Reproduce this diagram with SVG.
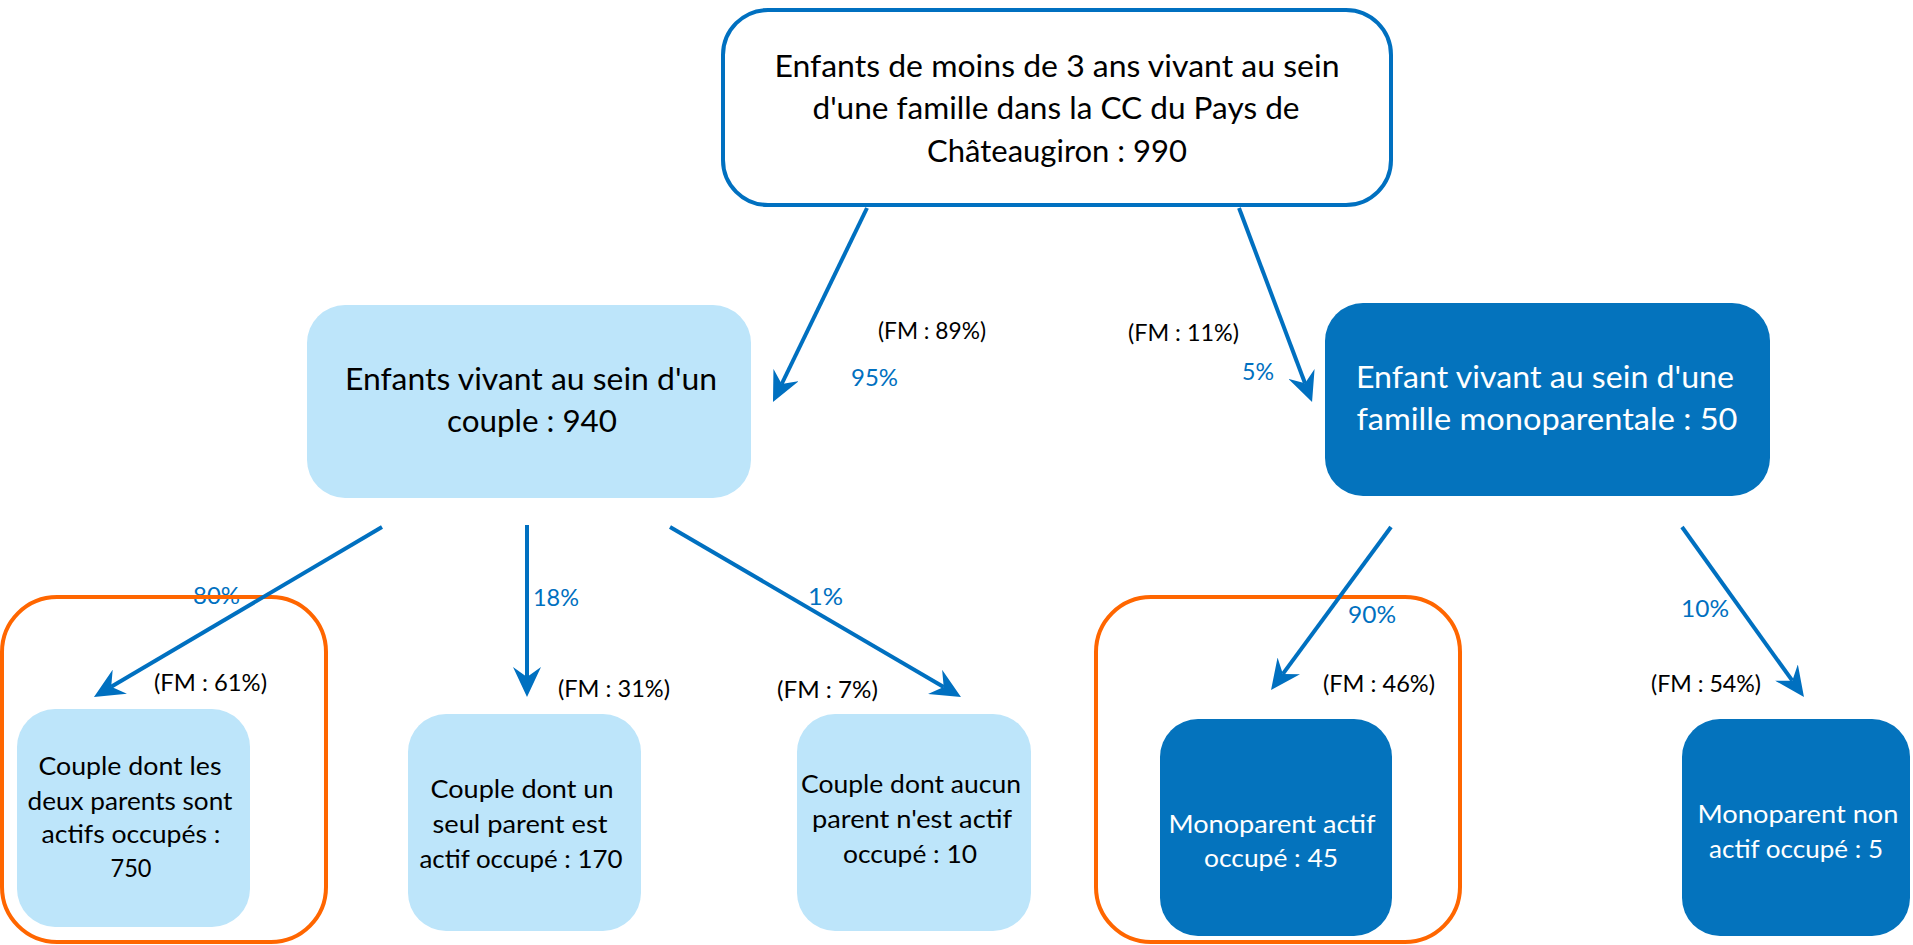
<svg xmlns="http://www.w3.org/2000/svg" width="1913" height="945" viewBox="0 0 1913 945">
<style>
.bt{font-family:Lato,"Open Sans","Liberation Sans",sans-serif;font-size:30px;fill:#000;text-anchor:middle}
.st{font-family:Lato,"Open Sans","Liberation Sans",sans-serif;font-size:25px;fill:#000;text-anchor:middle}
.w{fill:#fff}
.fm{font-family:Lato,"Open Sans","Liberation Sans",sans-serif;font-size:23px;fill:#000}
.pc{font-family:Lato,"Open Sans","Liberation Sans",sans-serif;font-size:23px;fill:#0070C0}
.light{fill:#BDE5FA}
.dark{fill:#0473BD}
.org{fill:none;stroke:#FF6600;stroke-width:4}
.con{stroke:#0070C0;stroke-width:4;fill:none;marker-end:url(#ah)}
</style>
<defs>
<marker id="ah" markerUnits="userSpaceOnUse" viewBox="0 0 30 28" refX="10" refY="14" markerWidth="30" markerHeight="28" orient="auto">
<path d="M30,14 L0,0 L10,14 L0,28 Z" fill="#0070C0"/>
</marker>
</defs>
<rect width="1913" height="945" fill="#fff"/>
<g id="n-top">
<rect x="723" y="10" width="668" height="195" rx="45" fill="#fff" stroke="#0070C0" stroke-width="4"/>
<text class="bt" x="1057" y="77" textLength="565" lengthAdjust="spacingAndGlyphs">Enfants de moins de 3 ans vivant au sein</text>
<text class="bt" x="1056" y="119" textLength="487" lengthAdjust="spacingAndGlyphs">d'une famille dans la CC du Pays de</text>
<text class="bt" x="1057" y="162" textLength="260" lengthAdjust="spacingAndGlyphs">Châteaugiron : 990</text>
</g>
<g id="n-couple">
<rect class="light" x="307" y="305" width="444" height="193" rx="38"/>
<text class="bt" x="531" y="390" textLength="372" lengthAdjust="spacingAndGlyphs">Enfants vivant au sein d'un</text>
<text class="bt" x="532" y="432" textLength="170" lengthAdjust="spacingAndGlyphs">couple : 940</text>
</g>
<g id="n-mono">
<rect class="dark" x="1325" y="303" width="445" height="193" rx="38"/>
<text class="bt w" x="1545" y="388" textLength="378" lengthAdjust="spacingAndGlyphs">Enfant vivant au sein d'une</text>
<text class="bt w" x="1547" y="430" textLength="381" lengthAdjust="spacingAndGlyphs">famille monoparentale : 50</text>
</g>
<g id="n-c1">
<rect class="light" x="17" y="709" width="233" height="218" rx="38"/>
<text class="st" x="130" y="775" textLength="183" lengthAdjust="spacingAndGlyphs">Couple dont les</text>
<text class="st" x="130" y="810" textLength="205" lengthAdjust="spacingAndGlyphs">deux parents sont</text>
<text class="st" x="131" y="843" textLength="179" lengthAdjust="spacingAndGlyphs">actifs occupés :</text>
<text class="st" x="131" y="877" textLength="41" lengthAdjust="spacingAndGlyphs">750</text>
</g>
<g id="n-c2">
<rect class="light" x="408" y="714" width="233" height="217" rx="38"/>
<text class="st" x="522" y="798" textLength="183" lengthAdjust="spacingAndGlyphs">Couple dont un</text>
<text class="st" x="520" y="833" textLength="175" lengthAdjust="spacingAndGlyphs">seul parent est</text>
<text class="st" x="521" y="868" textLength="203" lengthAdjust="spacingAndGlyphs">actif occupé : 170</text>
</g>
<g id="n-c3">
<rect class="light" x="797" y="714" width="234" height="217" rx="38"/>
<text class="st" x="911" y="793" textLength="220" lengthAdjust="spacingAndGlyphs">Couple dont aucun</text>
<text class="st" x="912" y="828" textLength="200" lengthAdjust="spacingAndGlyphs">parent n'est actif</text>
<text class="st" x="910" y="863" textLength="134" lengthAdjust="spacingAndGlyphs">occupé : 10</text>
</g>
<g id="n-m1">
<rect class="dark" x="1160" y="719" width="232" height="217" rx="38"/>
<text class="st w" x="1272" y="833" textLength="207" lengthAdjust="spacingAndGlyphs">Monoparent actif</text>
<text class="st w" x="1271" y="867" textLength="134" lengthAdjust="spacingAndGlyphs">occupé : 45</text>
</g>
<g id="n-m2">
<rect class="dark" x="1682" y="719" width="228" height="217" rx="38"/>
<text class="st w" x="1798" y="823" textLength="201" lengthAdjust="spacingAndGlyphs">Monoparent non</text>
<text class="st w" x="1796" y="858" textLength="174" lengthAdjust="spacingAndGlyphs">actif occupé : 5</text>
</g>
<g id="labels">
<text class="fm" x="878" y="339" textLength="108" lengthAdjust="spacingAndGlyphs">(FM : 89%)</text>
<text class="pc" x="851" y="386" textLength="47" lengthAdjust="spacingAndGlyphs">95%</text>
<text class="fm" x="1128" y="341" textLength="111" lengthAdjust="spacingAndGlyphs">(FM : 11%)</text>
<text class="pc" x="1242" y="380" textLength="32" lengthAdjust="spacingAndGlyphs">5%</text>
<text class="pc" x="193" y="604" textLength="47" lengthAdjust="spacingAndGlyphs">80%</text>
<text class="fm" x="154" y="691" textLength="113" lengthAdjust="spacingAndGlyphs">(FM : 61%)</text>
<text class="pc" x="533" y="606" textLength="46" lengthAdjust="spacingAndGlyphs">18%</text>
<text class="fm" x="558" y="697" textLength="112" lengthAdjust="spacingAndGlyphs">(FM : 31%)</text>
<text class="pc" x="808" y="605" textLength="35" lengthAdjust="spacingAndGlyphs">1%</text>
<text class="fm" x="777" y="698" textLength="101" lengthAdjust="spacingAndGlyphs">(FM : 7%)</text>
<text class="pc" x="1348" y="623" textLength="48" lengthAdjust="spacingAndGlyphs">90%</text>
<text class="fm" x="1323" y="692" textLength="112" lengthAdjust="spacingAndGlyphs">(FM : 46%)</text>
<text class="pc" x="1681" y="617" textLength="48" lengthAdjust="spacingAndGlyphs">10%</text>
<text class="fm" x="1651" y="692" textLength="110" lengthAdjust="spacingAndGlyphs">(FM : 54%)</text>
</g>
<g id="highlights">
<rect class="org" x="2" y="597" width="324" height="345" rx="55"/>
<rect class="org" x="1096" y="597" width="364" height="345" rx="55"/>
</g>
<g id="connectors">
<line class="con" x1="867" y1="208" x2="781.7" y2="384"/>
<line class="con" x1="1239" y1="208" x2="1305" y2="383.3"/>
<line class="con" x1="382" y1="527" x2="111.2" y2="686.8" stroke-width="3.5"/>
<line class="con" x1="527" y1="525" x2="527" y2="677" stroke-width="3.5"/>
<line class="con" x1="670" y1="527" x2="943.7" y2="686.9" stroke-width="3.5"/>
<line class="con" x1="1391" y1="527" x2="1282.9" y2="673.9" stroke-width="3.5"/>
<line class="con" x1="1682" y1="527" x2="1792.3" y2="680.7" stroke-width="3.5"/>
</g>
</svg>
